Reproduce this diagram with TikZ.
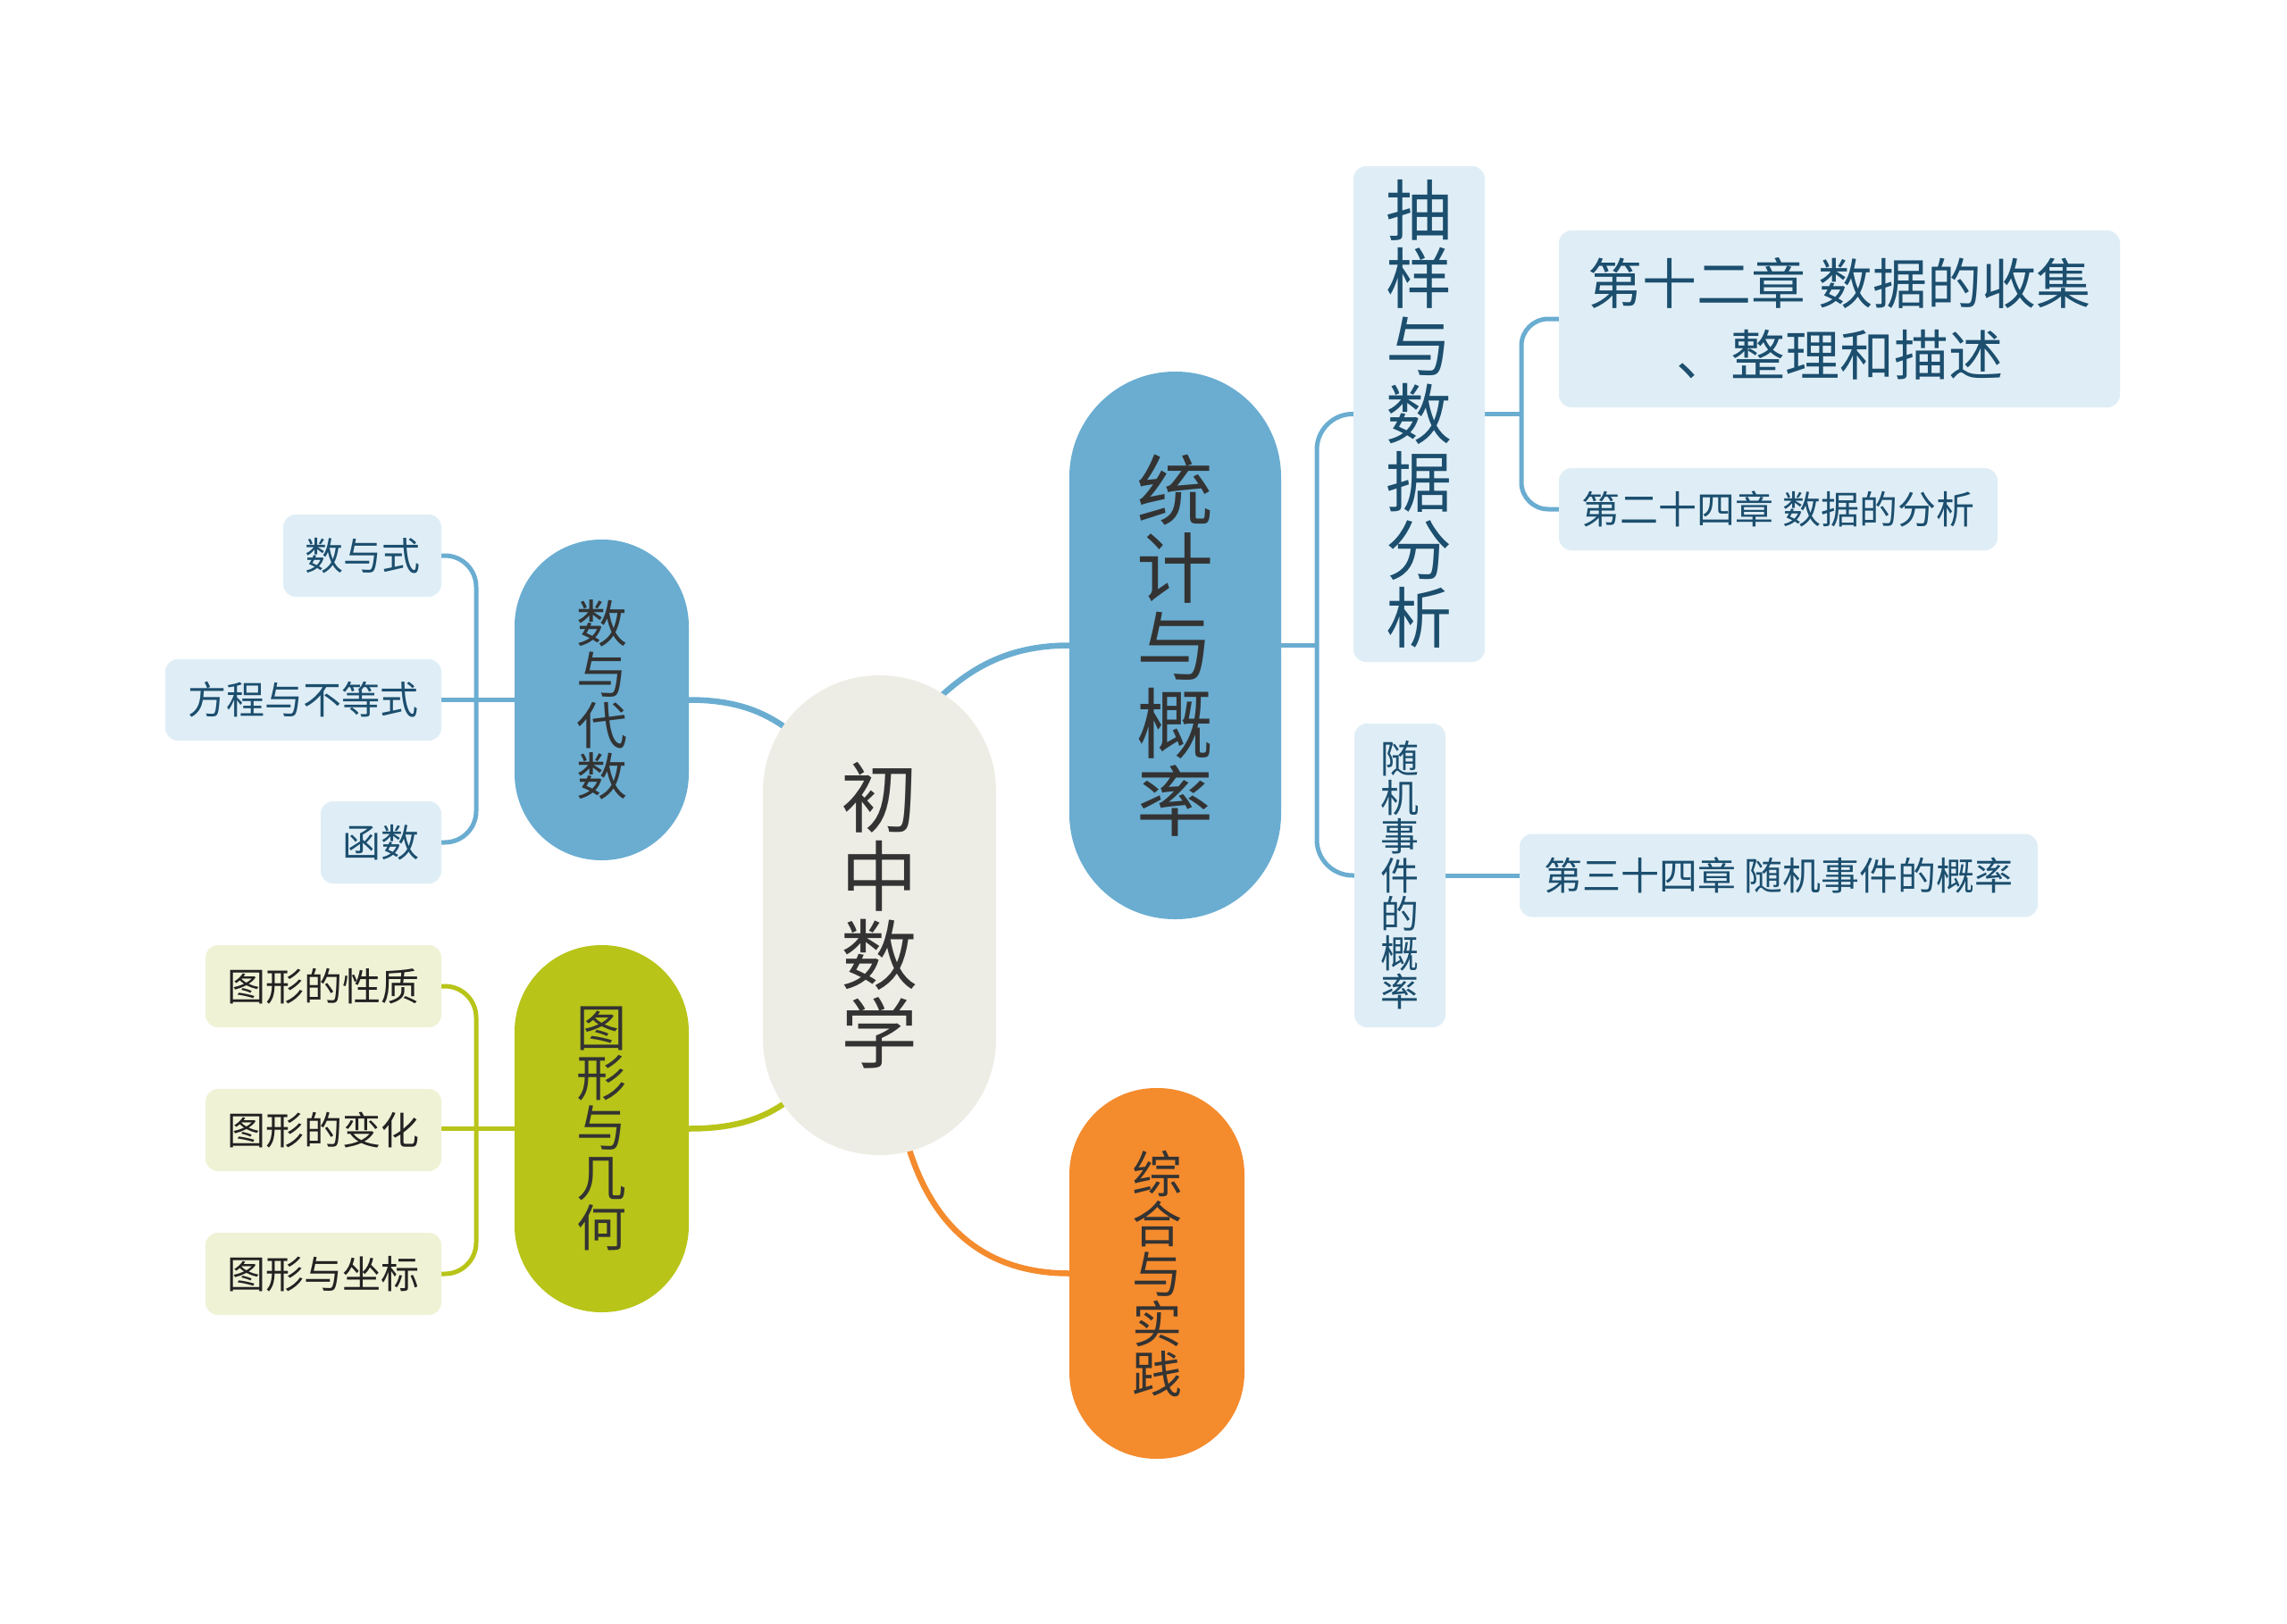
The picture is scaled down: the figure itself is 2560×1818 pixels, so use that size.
\documentclass[tikz,border=0pt]{standalone}
\usepackage{fontspec}
\setmainfont{Noto Sans CJK SC}
\usetikzlibrary{backgrounds}
\definecolor{cblue}{HTML}{6AADD1}
\definecolor{cpale}{HTML}{DFEEF6}
\definecolor{colive}{HTML}{B8C418}
\definecolor{cpaleolive}{HTML}{F0F2D6}
\definecolor{corange}{HTML}{F48B2D}
\definecolor{ccenter}{HTML}{EEEDE5}
\definecolor{cdark}{HTML}{333333}
\definecolor{cnavy}{HTML}{1C4E6E}
\definecolor{cblack}{HTML}{222222}
\begin{document}
\begin{tikzpicture}[x=1pt,y=-1pt,
  mainnode/.style={inner sep=0pt, align=center, text=cdark},
  paleleaf/.style={fill=cpale, inner sep=0pt, align=center, text=cnavy, rounded corners=14pt},
  oliveleaf/.style={fill=cpaleolive, inner sep=0pt, align=center, text=cblack, rounded corners=14pt,
     minimum width=264pt, minimum height=92pt, font=\fontsize{43}{43}\selectfont},
  leaffont/.style={font=\fontsize{43}{43}\selectfont},
  bline/.style={draw=cblue, line width=6.5pt},
  oline/.style={draw=colive, line width=6.5pt},
  rline/.style={draw=corange, line width=6.5pt},
  bbr/.style={draw=cblue, line width=5pt, rounded corners=35pt},
  obr/.style={draw=colive, line width=5pt, rounded corners=35pt}]
\useasboundingbox (0,0) rectangle (2560,1818);

% main nodes
\node[mainnode, fill=ccenter, minimum width=261pt, minimum height=537pt, rounded corners=130pt,
  font=\fontsize{86}{88}\selectfont] (root) at (984.5,1024.5) {初\\中\\数\\学};
\node[mainnode, fill=cblue, minimum width=195pt, minimum height=359pt, rounded corners=97pt,
  font=\fontsize{57}{57}\selectfont] (sd) at (673.5,783.5) {数\\与\\代\\数};
\node[mainnode, fill=colive, minimum width=195pt, minimum height=411pt, rounded corners=97pt,
  font=\fontsize{56}{56}\selectfont] (tx) at (673.5,1263.5) {图\\形\\与\\几\\何};
\node[mainnode, fill=cblue, minimum width=237pt, minimum height=613pt, rounded corners=118pt,
  font=\fontsize{86}{87}\selectfont] (tj) at (1315.5,722.5) {\raisebox{8pt}{\parbox{1em}{\centering 统\\计\\与\\概\\率}}};
\node[mainnode, fill=corange, minimum width=196pt, minimum height=415pt, rounded corners=97pt,
  font=\fontsize{56}{56}\selectfont] (zh) at (1295,1425.5) {综\\合\\与\\实\\践};

% second level (right)
\node[paleleaf, minimum width=147pt, minimum height=555pt, font=\fontsize{74}{76}\selectfont]
  (cy) at (1588.5,463.5) {抽\\样\\与\\数\\据\\分\\析};
\node[paleleaf, minimum width=102pt, minimum height=340pt, font=\fontsize{43}{43.5}\selectfont]
  (sj) at (1567,980) {随\\机\\事\\件\\的\\概\\率};
\node[paleleaf, minimum width=628pt, minimum height=198pt, font=\fontsize{61}{80}\selectfont]
  (d12) at (2059,357) {第十二章 数据的收集\\、整理和描述};
\node[paleleaf, leaffont, minimum width=491pt, minimum height=92pt] (d24) at (1990.5,570) {第二十四章 数据的分析};
\node[paleleaf, leaffont, minimum width=580pt, minimum height=93pt] (d34) at (1991,980) {第三十四章 随机事件的概率};

% leaves (left)
\node[paleleaf, leaffont, minimum width=177pt, minimum height=92pt] (a1) at (405.5,622) {数与式};
\node[paleleaf, leaffont, minimum width=309pt, minimum height=91pt] (a2) at (339.5,783.5) {方程与不等式};
\node[paleleaf, leaffont, minimum width=135pt, minimum height=92pt] (a3) at (426.5,943) {函数};
\node[oliveleaf] (g1) at (362,1104) {图形的性质};
\node[oliveleaf] (g2) at (362,1265) {图形的变化};
\node[oliveleaf] (g3) at (362,1426) {图形与坐标};

\begin{scope}[on background layer]
  \fill[white] (0,0) rectangle (2560,1818);
  % root connectors
  \draw[bline] (sd.east) .. controls +(60,0) and +(-30,-25) .. ([xshift=40pt,yshift=-70pt]root.north west);
  \draw[oline] (tx.east) .. controls +(60,0) and +(-30,25) .. ([xshift=40pt,yshift=70pt]root.south west);
  \draw[bline] (tj.west) .. controls +(-77,0) and +(50,-60) .. ([xshift=-95pt,yshift=-59pt]root.north east);
  \draw[rline] (zh.west) .. controls +(-97,0) and +(25,115) .. ([xshift=25pt,yshift=38pt]root.south);
  % left brackets
  \draw[bbr] (a1.east) -| (533,783.5) |- (a3.east);
  \draw[bbr] (sd.west) -- (sd.west -| a2.east);
  \draw[obr] (g1.east) -| (533,1265) |- (g3.east);
  \draw[obr] (tx.west) -- (tx.west -| g2.east);
  % right brackets
  \draw[bbr] (tj.east) -- (tj.east -| 1474,0);
  \draw[bbr, rounded corners=40pt] (cy.west) -| (1474,722.5) |- (sj.west);
  \draw[bbr] (cy.east) -- (cy.east -| 1703,0);
  \draw[bbr, rounded corners=30pt] (d12.west) -| (1703,463.5) |- (d24.west);
  \draw[bbr] (sj.east) -- (sj.east -| d34.west);
\end{scope}
\end{tikzpicture}
\end{document}
